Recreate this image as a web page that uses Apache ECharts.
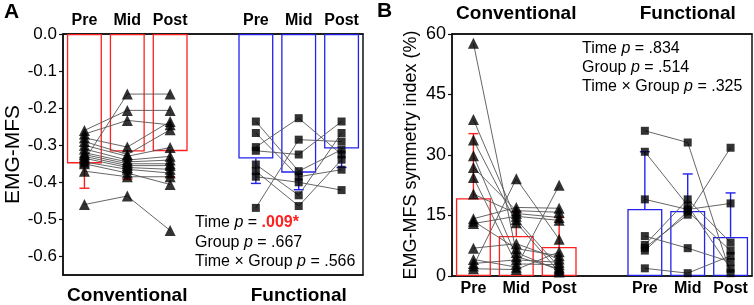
<!DOCTYPE html>
<html>
<head>
<meta charset="utf-8">
<script src="https://cdn.jsdelivr.net/npm/echarts@6/dist/echarts.min.js"></script>
<style>
  html, body { margin: 0; padding: 0; background: #fff; }
  #chart { width: 754px; height: 305px; }
</style>
</head>
<body>
<div id="chart"></div>
<script>
// 类别与标签
const slotLabels = ['Pre', 'Mid', 'Post', '', 'Pre', 'Mid', 'Post'];
const groupLabels = ['', 'Conventional', '', '', '', 'Functional', ''];
const mfsTicks = [0, -0.1, -0.2, -0.3, -0.4, -0.5, -0.6];

// A: EMG-MFS，每个受试者 [Pre, Mid, Post]
const mfsConventional = [
  [-0.34, -0.162, -0.162], [-0.26, -0.206, -0.206], [-0.27, -0.233, -0.245],
  [-0.28, -0.305, -0.236], [-0.29, -0.325, -0.258], [-0.30, -0.33, -0.306],
  [-0.31, -0.34, -0.33], [-0.32, -0.345, -0.34], [-0.325, -0.35, -0.35],
  [-0.33, -0.355, -0.355], [-0.335, -0.36, -0.365], [-0.345, -0.365, -0.375],
  [-0.35, -0.375, -0.406], [-0.37, -0.385, -0.385], [-0.46, -0.437, -0.53]
];
const mfsFunctional = [
  [-0.236, -0.37, -0.312], [-0.267, -0.385, -0.366], [-0.305, -0.227, -0.325],
  [-0.315, -0.325, -0.236], [-0.352, -0.435, -0.267], [-0.37, -0.464, -0.339],
  [-0.385, -0.40, -0.421], [-0.469, -0.285, -0.29]
];
const mfsConvMean = [-0.349, -0.317, -0.316];
const mfsConvErr = [-0.416, -0.392, -0.385];
const mfsFuncMean = [-0.336, -0.374, -0.309];
const mfsFuncErr = [-0.403, -0.42, -0.36];

// B: 对称指数 (%)
const siConventional = [
  [57.7, 5.8, 1.4], [38.8, 14.0, 2.2], [33.7, 13.2, 1.0], [29.8, 4.8, 1.8],
  [26.9, 16.2, 15.8], [24.4, 3.0, 2.8], [20.3, 15.5, 14.5], [14.2, 17.0, 16.8],
  [13.6, 6.8, 5.0], [13.0, 14.8, 13.8], [6.9, 8.0, 4.2], [4.1, 2.2, 22.5],
  [3.1, 4.0, 3.4], [2.5, 24.1, 9.1], [1.8, 1.6, 6.0]
];
const siFunctional = [
  [36.0, 33.1, 0.7], [30.8, 17.5, 1.8], [19.0, 16.5, 18.0], [9.9, 6.9, 3.5],
  [7.7, 19.0, 8.3], [7.0, 15.2, 31.8], [6.3, 16.0, 6.3], [1.9, 0.7, 5.0]
];
const siConvMean = [19.3, 9.9, 7.2];
const siConvErr = [35.3, 16.0, 14.5];
const siFuncMean = [16.6, 16.1, 9.7];
const siFuncErr = [30.8, 25.3, 20.6];

const RED = '#ff2020';
const BLUE = '#2323ee';
const FONT = 'Liberation Sans, Arial, sans-serif';

// 生成一个面板的所有系列
function panelSeries(xi, yi, conv, func, convMean, funcMean, convErr, funcErr) {
  const series = [];
  series.push({
    type: 'bar', xAxisIndex: xi, yAxisIndex: yi, barWidth: 35, barGap: '-100%', z: 1,
    data: [convMean[0], convMean[1], convMean[2], '-', '-', '-', '-'],
    itemStyle: { color: 'rgba(0,0,0,0)', borderColor: RED, borderWidth: 1.3 }, silent: true
  });
  series.push({
    type: 'bar', xAxisIndex: xi, yAxisIndex: yi, barWidth: 35, barGap: '-100%', z: 1,
    data: ['-', '-', '-', '-', funcMean[0], funcMean[1], funcMean[2]],
    itemStyle: { color: 'rgba(0,0,0,0)', borderColor: BLUE, borderWidth: 1.3 }, silent: true
  });
  const errData = [];
  for (let j = 0; j < 3; j++) {
    errData.push([j, convMean[j], convErr[j], 0]);
    errData.push([4 + j, funcMean[j], funcErr[j], 1]);
  }
  series.push({
    type: 'custom', xAxisIndex: xi, yAxisIndex: yi, z: 2, silent: true,
    encode: { x: 0, y: [1, 2] },
    data: errData,
    renderItem: (params, api) => {
      const p0 = api.coord([api.value(0), api.value(1)]);
      const p1 = api.coord([api.value(0), api.value(2)]);
      const color = api.value(3) === 0 ? RED : BLUE;
      const st = { stroke: color, lineWidth: 1.4 };
      return {
        type: 'group',
        children: [
          { type: 'line', shape: { x1: p0[0], y1: p0[1], x2: p1[0], y2: p1[1] }, style: st },
          { type: 'line', shape: { x1: p1[0] - 5, y1: p1[1], x2: p1[0] + 5, y2: p1[1] }, style: st }
        ]
      };
    }
  });
  const lineOf = (s, off) => ({
    type: 'line', xAxisIndex: xi, yAxisIndex: yi, z: 3, silent: true,
    symbol: 'none', animation: false,
    lineStyle: { color: '#555', width: 0.9 },
    data: s.map((v, j) => [off + j, v])
  });
  conv.forEach(s => series.push(lineOf(s, 0)));
  func.forEach(s => series.push(lineOf(s, 4)));
  const pts = (arr, off) => arr.flatMap(s => s.map((v, j) => [off + j, v]));
  series.push({
    type: 'scatter', xAxisIndex: xi, yAxisIndex: yi, z: 5, silent: true,
    symbol: 'triangle', symbolSize: 11, itemStyle: { color: '#000' },
    data: pts(conv, 0)
  });
  series.push({
    type: 'scatter', xAxisIndex: xi, yAxisIndex: yi, z: 5, silent: true,
    symbol: 'rect', symbolSize: 8, itemStyle: { color: '#000' },
    data: pts(func, 4)
  });
  return series;
}

const axisLine = { show: true, lineStyle: { color: '#111', width: 1.5 } };

function catAxis(grid, pos, data, size, margin) {
  return {
    type: 'category', gridIndex: grid, position: pos, data: data,
    boundaryGap: true, axisLine: axisLine, axisTick: { show: false },
    axisLabel: { interval: 0, color: '#000', fontFamily: FONT, fontWeight: 'bold', fontSize: size, margin: margin }
  };
}

const chart = echarts.init(document.getElementById('chart'));
chart.setOption({
  animation: false,
  backgroundColor: '#fff',
  grid: [
    { left: 63, top: 34, width: 300, height: 242, show: true, borderColor: '#111', borderWidth: 1.5 },
    { left: 452, top: 34, width: 300, height: 242, show: true, borderColor: '#111', borderWidth: 1.5 }
  ],
  xAxis: [
    catAxis(0, 'top', slotLabels, 16, 5),
    catAxis(0, 'bottom', groupLabels, 19, 11),
    catAxis(1, 'bottom', slotLabels, 16, 5),
    catAxis(1, 'top', groupLabels, 19, 11)
  ],
  yAxis: [
    {
      type: 'value', gridIndex: 0, min: -0.65, max: 0,
      name: 'EMG-MFS', nameLocation: 'middle', nameGap: 39,
      nameTextStyle: { fontFamily: FONT, fontSize: 21, color: '#000' },
      axisLine: axisLine, splitLine: { show: false },
      axisTick: { show: true, length: 4, customValues: mfsTicks, lineStyle: { color: '#111', width: 1.2 } },
      axisLabel: { customValues: mfsTicks, formatter: v => v.toFixed(1), color: '#000', fontFamily: FONT, fontSize: 17, margin: 6 }
    },
    {
      type: 'value', gridIndex: 1, min: 0, max: 60, interval: 15,
      name: 'EMG-MFS symmetry index (%)', nameLocation: 'middle', nameGap: 32,
      nameTextStyle: { fontFamily: FONT, fontSize: 18, color: '#000' },
      axisLine: axisLine, splitLine: { show: false },
      axisTick: { show: true, length: 4, lineStyle: { color: '#111', width: 1.2 } },
      axisLabel: { color: '#000', fontFamily: FONT, fontSize: 18, margin: 6 }
    }
  ],
  series: [
    ...panelSeries(0, 0, mfsConventional, mfsFunctional, mfsConvMean, mfsFuncMean, mfsConvErr, mfsFuncErr),
    ...panelSeries(2, 1, siConventional, siFunctional, siConvMean, siFuncMean, siConvErr, siFuncErr)
  ],
  graphic: [
    { type: 'text', left: 4, top: 2, style: { text: 'A', font: 'bold 21px ' + FONT, fill: '#000' } },
    { type: 'text', left: 377, top: 1, style: { text: 'B', font: 'bold 21px ' + FONT, fill: '#000' } },
    ...[
      ['{n|Time }{i|p}{n| = }{r|.009*}', 195, 223],
      ['{n|Group }{i|p}{n| = .667}', 195, 243],
      ['{n|Time × Group }{i|p}{n| = .566}', 195, 262],
      ['{n|Time }{i|p}{n| = .834}', 582, 49],
      ['{n|Group }{i|p}{n| = .514}', 582, 68],
      ['{n|Time × Group }{i|p}{n| = .325}', 582, 87]
    ].map(([t, x, y]) => ({
      type: 'text', x: x, y: y, z: 10,
      style: {
        text: t, verticalAlign: 'middle', align: 'left',
        rich: {
          n: { fontFamily: FONT, fontSize: 16, fill: '#000' },
          i: { fontFamily: FONT, fontSize: 16, fontStyle: 'italic', fill: '#000' },
          r: { fontFamily: FONT, fontSize: 16, fontWeight: 'bold', fill: RED }
        }
      }
    }))
  ]
});
</script>
</body>
</html>
